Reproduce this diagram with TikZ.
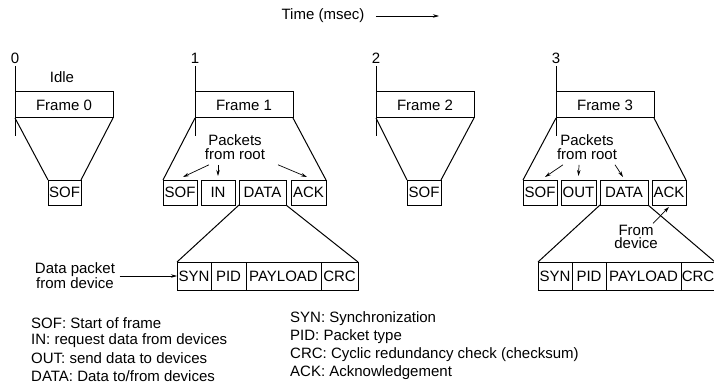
\documentclass[tikz,border=0pt]{standalone}
\usepackage{fontspec}
\setmainfont{Liberation Sans}
\usetikzlibrary{positioning,arrows.meta}

\begin{document}
\begin{tikzpicture}[x=1pt,y=-1pt,
    every node/.style={font=\fontsize{15}{13.5}\selectfont},
    edge/.style={line width=1pt},
    frm/.style={draw, line width=1pt, minimum width=98pt, minimum height=26pt,
        inner sep=0pt, outer sep=0pt, anchor=north west},
    pkt/.style={draw, line width=1pt, minimum height=25pt, inner sep=0pt, outer sep=0pt},
    fld/.style={draw, line width=1pt, minimum height=28pt, inner sep=0pt, outer sep=0pt},
    arr/.style={line width=0.7pt, -{Stealth[length=6pt,width=3.5pt]}},
    key/.style={anchor=west, inner sep=0pt}]

    \useasboundingbox (0,0) rectangle (714,385);

    % Time axis
    \node (time) at (323,16) {Time (msec)};
    \coordinate (tend) at (439,16);
    \draw[arr] ([xshift=8pt]time.east) -- (tend);

    % Frames with time ticks
    \foreach \i/\x in {0/15,1/195,2/376,3/556} {
        \coordinate (t\i) at (\x,66);
        \node[anchor=south, inner sep=2pt] at (t\i) {\i};
        \draw[edge] (t\i) -- ++(0,70);
        \node[frm] (f\i) at (\x,92) {Frame \i};
    }
    \node (idle) at (62,77) {Idle};

    % Packets of frames 0 and 2
    \node[pkt, minimum width=33pt, anchor=north west] (sof0) at (48,180) {SOF};
    \node[pkt, minimum width=34pt, anchor=north west] (sof2) at (407,180) {SOF};
    \foreach \i in {0,2} {
        \draw[edge] (f\i.south west) -- (sof\i.north west);
        \draw[edge] (f\i.south east) -- (sof\i.north east);
    }

    % Packets of frame 1
    \node[pkt, minimum width=34pt, anchor=north west] (sof1) at (163,180) {SOF};
    \node[pkt, minimum width=34pt, right=4pt of sof1] (in1) {IN};
    \node[pkt, minimum width=47pt, right=4pt of in1] (data1) {DATA};
    \node[pkt, minimum width=35pt, right=5pt of data1] (ack1) {ACK};
    \draw[edge] (f1.south west) -- (sof1.north west);
    \draw[edge] (f1.south east) -- (ack1.north east);

    % Packets of frame 3
    \node[pkt, minimum width=34pt, anchor=north west] (sof3) at (523,180) {SOF};
    \node[pkt, minimum width=35pt, right=4pt of sof3] (out3) {OUT};
    \node[pkt, minimum width=48pt, right=4pt of out3] (data3) {DATA};
    \node[pkt, minimum width=34pt, right=4pt of data3] (ack3) {ACK};
    \draw[edge] (f3.south west) -- (sof3.north west);
    \draw[edge] (f3.south east) -- (ack3.north east);

    % Data packets
    \node[fld, minimum width=34pt, anchor=north west] (syn1) at (177,262) {SYN};
    \node[fld, minimum width=35pt, right=0pt of syn1] (pid1) {PID};
    \node[fld, minimum width=75pt, right=0pt of pid1] (pay1) {PAYLOAD};
    \node[fld, minimum width=37pt, right=0pt of pay1] (crc1) {CRC};
    \draw[edge] (data1.south west) -- (syn1.north west);
    \draw[edge] (data1.south east) -- (crc1.north east);

    \node[fld, minimum width=34pt, anchor=north west] (syn3) at (538,262) {SYN};
    \node[fld, minimum width=34pt, right=0pt of syn3] (pid3) {PID};
    \node[fld, minimum width=75pt, right=0pt of pid3] (pay3) {PAYLOAD};
    \node[fld, minimum width=34pt, right=0pt of pay3] (crc3) {CRC};
    \draw[edge] (data3.south west) -- (syn3.north west);
    \draw[edge] (data3.south east) -- (crc3.north east);

    % Labels with arrows
    \node[align=center] (root1) at (235,147) {Packets\\from root};
    \draw[arr] ([xshift=-26pt,yshift=-2pt]root1.south) -- ([xshift=3pt,yshift=3pt]sof1.north);
    \draw[arr] ([xshift=-17pt,yshift=-2pt]root1.south) -- ([yshift=4pt]in1.north);
    \draw[arr] ([xshift=43pt,yshift=-2pt]root1.south) -- ([xshift=-1.5pt,yshift=3pt]ack1.north);

    \node[align=center] (root3) at (587,147) {Packets\\from root};
    \draw[arr] ([xshift=-24pt,yshift=-2pt]root3.south) -- ([xshift=5pt,yshift=3pt]sof3.north);
    \draw[arr] ([xshift=-8pt,yshift=-2pt]root3.south) -- ([yshift=4pt]out3.north);
    \draw[arr] ([xshift=28pt,yshift=-2pt]root3.south) -- ([xshift=-1pt,yshift=3pt]data3.north);

    \node[align=center] (dev3) at (636,237) {From\\device};
    \draw[arr] ([xshift=17pt,yshift=-2pt]dev3.north) -- ([yshift=-2pt]ack3.south);

    \node[align=center] (dev1) at (75,276) {Data packet\\from device};
    \draw[arr] ([xshift=1pt]dev1.east) -- (syn1.west);

    % Legend
    \foreach \t [count=\k] in {SOF: Start of frame, IN: request data from devices,
        OUT: send data to devices, DATA: Data to/from devices}
        \node[key] (keyl\k) at (31,305+17.8*\k) {\t};
    \foreach \t [count=\k] in {SYN: Synchronization, PID: Packet type,
        CRC: Cyclic redundancy check (checksum), ACK: Acknowledgement}
        \node[key] (keyr\k) at (290,301+18*\k) {\t};
\end{tikzpicture}
\end{document}
